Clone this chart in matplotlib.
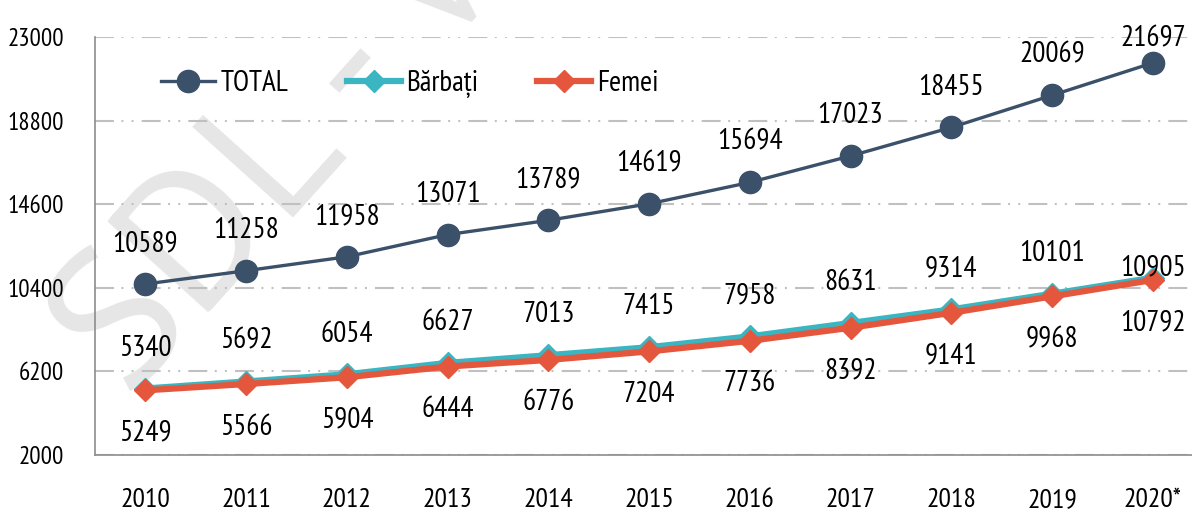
import numpy as np
import matplotlib
matplotlib.use('Agg')
import matplotlib.pyplot as plt

plt.rcParams['font.family'] = ['PT Sans Narrow', 'DejaVu Sans']

years = ['2010', '2011', '2012', '2013', '2014', '2015', '2016', '2017', '2018', '2019', '2020*']
total = [10589, 11258, 11958, 13071, 13789, 14619, 15694, 17023, 18455, 20069, 21697]
barbati = [5340, 5692, 6054, 6627, 7013, 7415, 7958, 8631, 9314, 10101, 10905]
femei = [5249, 5566, 5904, 6444, 6776, 7204, 7736, 8392, 9141, 9968, 10792]
y_ticks = [2000, 6200, 10400, 14600, 18800, 23000]

c_total = '#3b5069'
c_barbati = '#3ab5c1'
c_femei = '#e5573c'

fig = plt.figure(figsize=(11.92, 5.15), dpi=100)
ax = fig.add_axes([0.0797, 0.1165, 0.9203, 0.8117])
ax.patch.set_alpha(0)

# watermark, behind the axes
fig.text(0.108, 0.222, 'SDL - Valori', fontsize=140, color='#e6e6e6', rotation=48,
         rotation_mode='anchor', ha='left', va='baseline', zorder=-5,
         family=['PT Sans', 'DejaVu Sans'])

x = np.arange(len(years))

ax.plot(x, total, color=c_total, lw=2.4, marker='o', ms=16, label='TOTAL', zorder=4)
ax.plot(x, barbati, color=c_barbati, lw=4.5, marker='D', ms=11, label='Bărbați', zorder=3)
ax.plot(x, femei, color=c_femei, lw=4.5, marker='D', ms=11, label='Femei', zorder=3)

for i in range(len(x)):
    dy = 29 if i < len(x) - 1 else 17
    ax.annotate(str(total[i]), (x[i], total[i]), xytext=(0, dy), textcoords='offset points',
                ha='center', va='center', fontsize=21)
    dy = 29 if i < len(x) - 1 else 7
    ax.annotate(str(barbati[i]), (x[i], barbati[i]), xytext=(0, dy), textcoords='offset points',
                ha='center', va='center', fontsize=21)
    ax.annotate(str(femei[i]), (x[i], femei[i]), xytext=(0, -31), textcoords='offset points',
                ha='center', va='center', fontsize=21)

ax.set_xlim(-0.5, 10.39)
ax.set_ylim(2000, 23000)
ax.set_yticks(y_ticks)
ax.set_xticks(x)
ax.set_xticklabels(years)
ax.tick_params(axis='y', length=0, pad=22, labelsize=18)
ax.tick_params(axis='x', length=0, pad=24, labelsize=20)

ax.grid(axis='y', color='#c0c0c0', lw=1.5, linestyle=(0, (9.1, 3.6, 0.95, 3.9, 0.95, 3.9)))
ax.set_axisbelow(True)
for s in ['top', 'right']:
    ax.spines[s].set_visible(False)
for s in ['left', 'bottom']:
    ax.spines[s].set_color('#8c8c8c')
    ax.spines[s].set_linewidth(1.2)

ax.legend(loc='upper left', bbox_to_anchor=(0.036, 0.985), ncol=3, frameon=False,
          fontsize=21, handlelength=1.85, handletextpad=0.2, columnspacing=2.0)

fig.savefig('out.png', dpi=100)
